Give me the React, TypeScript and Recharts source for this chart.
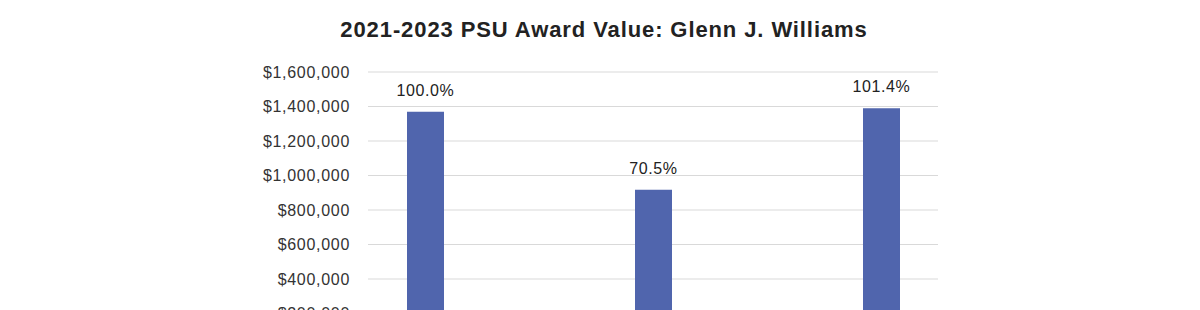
import { BarChart, Bar, XAxis, YAxis, CartesianGrid, LabelList } from 'recharts';

const categories = ['Target Value', 'Value at Grant Date', 'Value at Year End'];
const values = [1370000, 917000, 1390000];
const percentLabels = ['100.0%', '70.5%', '101.4%'];
const yTicks = [0, 200000, 400000, 600000, 800000, 1000000, 1200000, 1400000, 1600000];

const data = categories.map((name, i) => ({
  pos: i,
  name,
  value: values[i],
  pct: percentLabels[i],
}));

const FONT = '"Liberation Sans", Arial, Helvetica, sans-serif';

const money = (v: number) => '$' + v.toLocaleString('en-US');

export default function App() {
  return (
    <div style={{ position: 'absolute', left: 0, top: 0, width: 1200, height: 398, fontFamily: FONT, background: '#fff' }}>
      <div
        style={{
          position: 'absolute',
          top: 17,
          left: 0,
          width: 1208,
          textAlign: 'center',
          fontSize: 22,
          letterSpacing: 0.9,
          fontWeight: 'bold',
          color: '#222',
        }}
      >
        2021-2023 PSU Award Value: Glenn J. Williams
      </div>
      <BarChart width={1200} height={398} data={data} margin={{ top: 72, right: 262, bottom: 20, left: 0 }}>
        <CartesianGrid vertical={false} stroke="#d9d9d9" />
        {/* category names sit below the visible area in the reference */}
        <XAxis
          dataKey="pos"
          type="number"
          domain={[-0.25, 2.25]}
          ticks={[0, 1, 2]}
          tick={false}
          axisLine={{ stroke: '#d9d9d9' }}
          tickLine={false}
          height={30}
        />
        <YAxis
          width={368}
          domain={[0, 1600000]}
          ticks={yTicks}
          tickFormatter={money}
          axisLine={false}
          tickLine={false}
          tickMargin={12}
          tick={{ fill: '#333', fontSize: 16, fontFamily: FONT, letterSpacing: 0.7 }}
        />
        <Bar dataKey="value" fill="#5065ad" barSize={37} isAnimationActive={false}>
          <LabelList
            dataKey="pct"
            position="top"
            offset={16}
            fill="#222"
            fontSize={16}
            fontFamily={FONT}
            style={{ letterSpacing: 0.6 }}
          />
        </Bar>
      </BarChart>
    </div>
  );
}
